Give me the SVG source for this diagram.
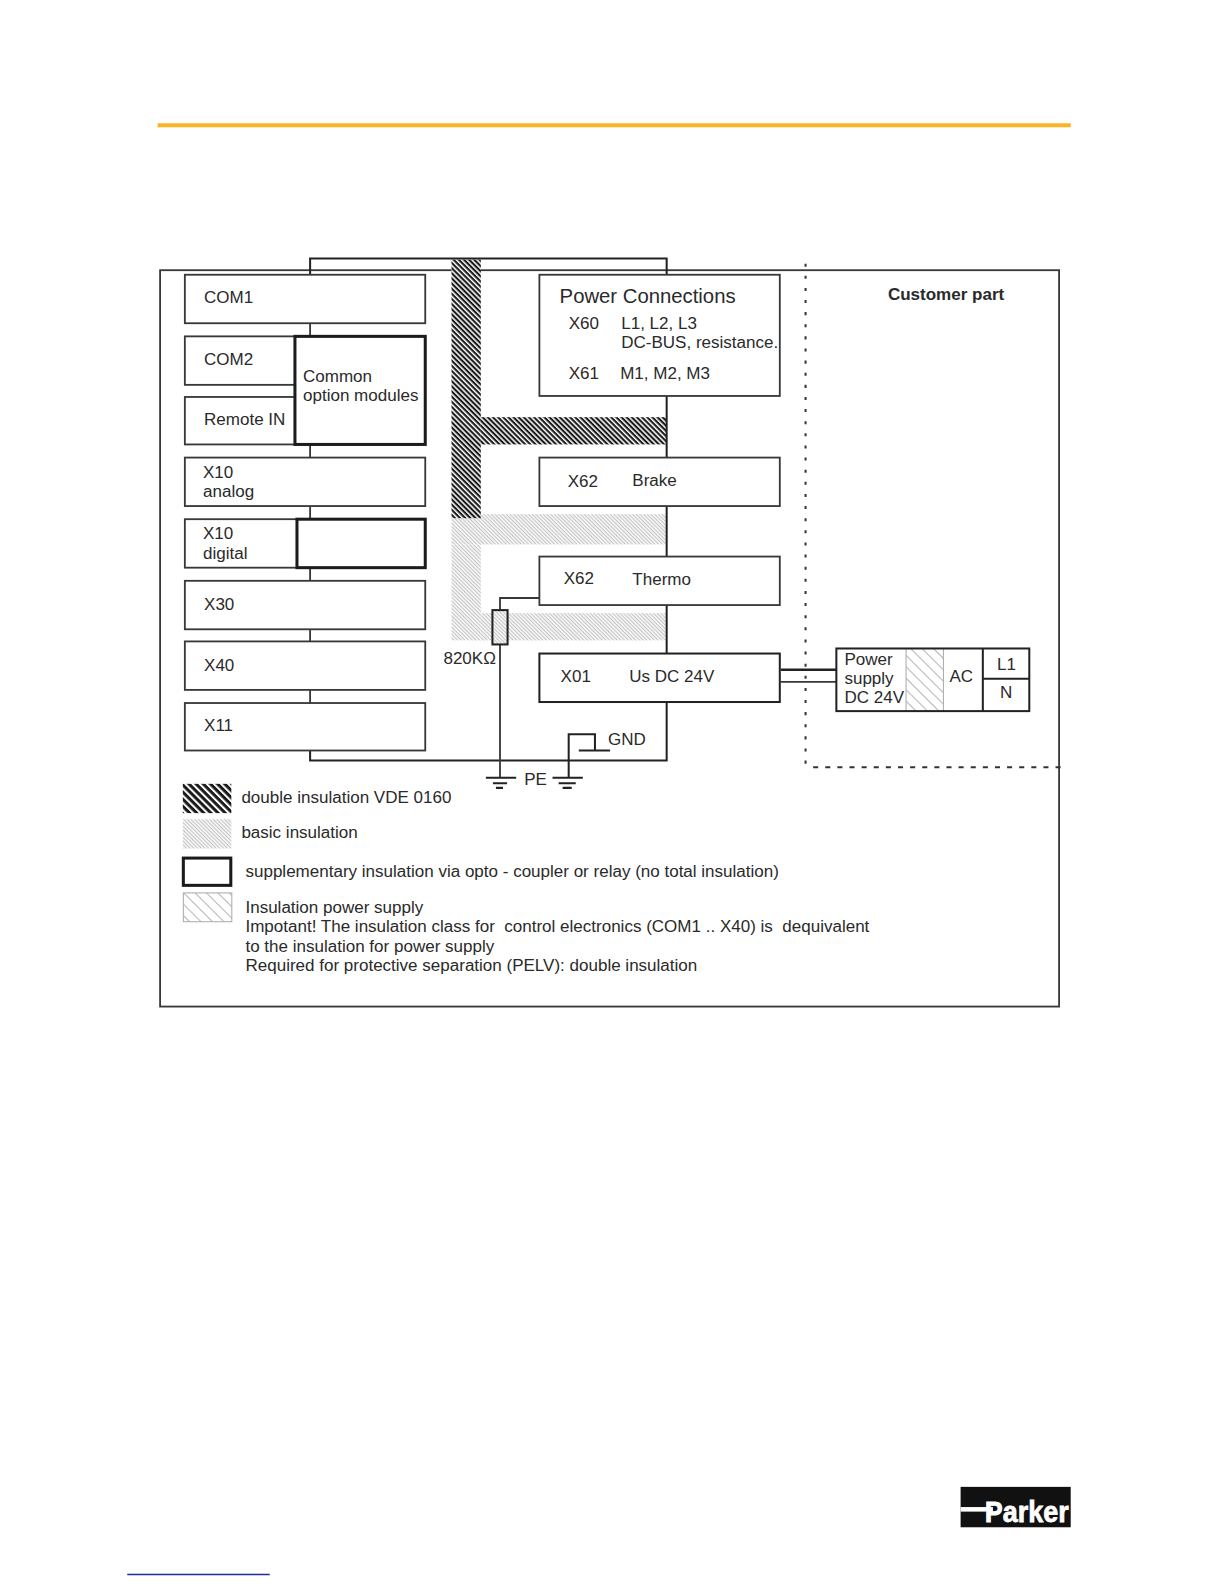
<svg xmlns="http://www.w3.org/2000/svg" width="1224" height="1584" viewBox="0 0 1224 1584">
<style>
text{font-family:"Liberation Sans",Arial,sans-serif;font-size:16.85px;fill:#2a2a2a;white-space:pre}
.b{fill:#fff;stroke:#383838;stroke-width:1.800}
.t{fill:#fff;stroke:#1c1c1c;stroke-width:3}
.l{fill:none;stroke:#383838;stroke-width:1.800}
.k{fill:none;stroke:#222;stroke-width:2}
</style>
<defs>
<pattern id="dbl" width="3.6" height="3.6" patternUnits="userSpaceOnUse" patternTransform="rotate(45)"><rect width="3.6" height="3.6" fill="#fff"/><rect width="3.6" height="2.1" fill="#1a1a1a"/></pattern>
<pattern id="dbl2" width="5" height="5" patternUnits="userSpaceOnUse" patternTransform="rotate(45)"><rect width="5" height="5" fill="#fff"/><rect width="5" height="3" fill="#1a1a1a"/></pattern>
<pattern id="bas" width="2.6" height="2.6" patternUnits="userSpaceOnUse" patternTransform="rotate(45)"><rect width="2.6" height="2.6" fill="#f7f7f7"/><rect width="2.6" height="1" fill="#c4c4c4"/></pattern>
<pattern id="sup" width="8" height="8" patternUnits="userSpaceOnUse" patternTransform="rotate(45)"><rect width="8" height="8" fill="#fff"/><rect width="8" height="1" fill="#b4b4b4"/></pattern>
</defs>
<rect width="1224" height="1584" fill="#fff"/>
<g transform="scale(1.0101)">
<rect id="top-rule" x="156" y="122" width="904" height="4" fill="#fbb426"/>
<rect id="frame" x="158.500" y="267.500" width="890" height="729" fill="none" stroke="#383838" stroke-width="1.800"/>
<g id="insulation">
<rect x="447" y="509" width="212" height="30" fill="url(#bas)"/>
<rect x="447" y="539" width="29" height="95" fill="url(#bas)"/>
<rect x="476" y="607" width="183" height="27" fill="url(#bas)"/>
<rect x="447" y="257" width="29" height="256" fill="url(#dbl)"/>
<rect x="476" y="413" width="184" height="27" fill="url(#dbl)"/>
</g>
<g id="connectors">
<path class="k" d="M307 272V256H660V272M660 392V453M660 501V551M660 599V647M660 695V753H307V743"/>
<path class="l" d="M307 320V333M307 440V453M307 501V514M307 562V575M307 623V635M307 683V696"/>
<path class="l" d="M534 592H495V604M495 638V770"/>
<path class="k" d="M563 770V727H589V743M573 743H604"/>
<path class="k" d="M773 663H828" style="stroke-width:2.500"/>
<path class="l" d="M773 675H828"/>
<path d="M797.500 261V757" fill="none" stroke="#333" stroke-width="2" stroke-dasharray="3 9"/>
<path d="M805 759.500H1056" fill="none" stroke="#333" stroke-width="2" stroke-dasharray="5 7"/>
</g>
<g id="com1"><rect class="b" x="183" y="272" width="238" height="48"/><text x="202" y="300">COM1</text></g>
<g id="com2"><rect class="b" x="183" y="333" width="110" height="48"/><text x="202" y="361">COM2</text></g>
<g id="remote-in"><rect class="b" x="183" y="393" width="110" height="47"/><text x="202" y="421">Remote IN</text></g>
<g id="common-option"><rect class="t" x="292" y="333" width="129" height="107"/><text x="300" y="378">Common</text><text x="300" y="397">option modules</text></g>
<g id="x10-analog"><rect class="b" x="183" y="453" width="238" height="48"/><text x="201" y="473">X10</text><text x="201" y="492">analog</text></g>
<g id="x10-digital"><rect class="b" x="183" y="514" width="112" height="48"/><rect class="t" x="294" y="514" width="127" height="48"/><text x="201" y="534">X10</text><text x="201" y="553">digital</text></g>
<g id="x30"><rect class="b" x="183" y="575" width="238" height="48"/><text x="202" y="604">X30</text></g>
<g id="x40"><rect class="b" x="183" y="635" width="238" height="48"/><text x="202" y="664">X40</text></g>
<g id="x11"><rect class="b" x="183" y="696" width="238" height="47"/><text x="202" y="724">X11</text></g>
<g id="power"><rect class="b" x="534" y="272" width="238" height="120"/>
<text x="554" y="300" style="font-size:20.1px">Power Connections</text>
<text x="563" y="326">X60</text><text x="615" y="326">L1, L2, L3</text><text x="615" y="345">DC-BUS, resistance.</text>
<text x="563" y="375">X61</text><text x="614" y="375">M1, M2, M3</text></g>
<g id="x62-brake"><rect class="b" x="534" y="453" width="238" height="48"/><text x="562" y="482">X62</text><text x="626" y="481">Brake</text></g>
<g id="x62-thermo"><rect class="b" x="534" y="551" width="238" height="48"/><text x="558" y="578">X62</text><text x="626" y="579">Thermo</text></g>
<g id="x01"><rect class="b" x="534" y="647" width="238" height="48" style="stroke:#222;stroke-width:2"/><text x="555" y="675">X01</text><text x="623" y="675">Us DC 24V</text></g>
<g id="resistor"><rect x="487.500" y="604" width="15" height="34" fill="url(#bas)" stroke="#222" stroke-width="2"/><text x="439" y="657">820KΩ</text></g>
<g id="gnd"><text x="602" y="738">GND</text></g>
<g id="pe">
<path class="k" d="M481 770H511M488 775.500H502M491 780H498M547 770H577M553 775.500H570M557 780H566"/>
<text x="519" y="777">PE</text></g>
<g id="customer"><text x="879" y="297" style="font-weight:700">Customer part</text></g>
<g id="power-supply"><rect x="828" y="642" width="191" height="62" fill="#fff"/>
<rect x="897" y="642" width="37" height="62" fill="url(#sup)"/>
<path d="M897 642V704M934 642V704" stroke="#aaa" stroke-width="1"/>
<rect class="k" x="828" y="642" width="191" height="62"/>
<path class="k" d="M973 642V704M973 672H1019"/>
<text x="836" y="658">Power</text><text x="836" y="677">supply</text><text x="836" y="696">DC 24V</text>
<text x="940" y="675">AC</text><text x="987" y="663">L1</text><text x="990" y="691">N</text></g>
<g id="legend">
<rect x="181" y="776" width="48" height="29" fill="url(#dbl2)"/><text x="239" y="795">double insulation VDE 0160</text>
<rect x="181" y="811" width="48" height="29" fill="url(#bas)"/><text x="239" y="830">basic insulation</text>
<rect x="181.500" y="849.500" width="47" height="27" fill="#fff" stroke="#1a1a1a" stroke-width="3"/><text x="243" y="868">supplementary insulation via opto - coupler or relay (no total insulation)</text>
<rect x="181.500" y="884" width="48" height="28.500" fill="url(#sup)" stroke="#aaa" stroke-width="1"/>
<text x="243" y="904">Insulation power supply</text>
<text x="243" y="923">Impotant! The insulation class for  control electronics (COM1 .. X40) is  dequivalent</text>
<text x="243" y="942">to the insulation for power supply</text>
<text x="243" y="961">Required for protective separation (PELV): double insulation</text></g>
<g id="logo"><rect x="951" y="1472" width="109" height="40" fill="#111"/>
<rect x="951" y="1492" width="32" height="4.500" fill="#fff"/>
<text x="975" y="1507" style="font-size:30px;font-weight:700;fill:#fff;stroke:#fff;stroke-width:.8" textLength="83" lengthAdjust="spacingAndGlyphs">Parker</text></g>
<rect id="foot-rule" x="126" y="1558" width="141" height="1.500" fill="#1f2f9a"/>
</g>
</svg>
